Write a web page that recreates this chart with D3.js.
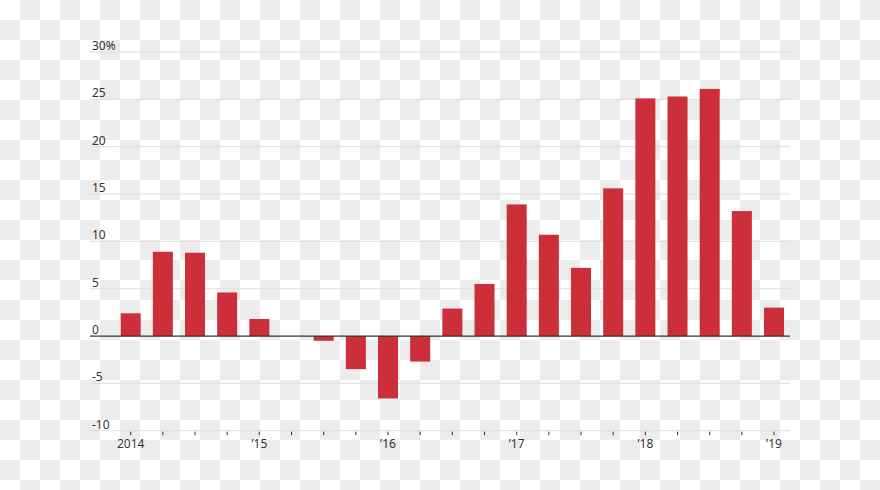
<!DOCTYPE html>
<html>
<head>
<meta charset="utf-8">
<script src="https://cdn.jsdelivr.net/npm/d3@7"></script>
<style>
  body { margin: 0; background: #fff; }
  svg { display: block; }
  .tick_label { font-family: "Noto Sans", "Open Sans", sans-serif; font-size: 12px; fill: #333; }
</style>
</head>
<body>
<svg id="chart" width="880" height="490"></svg>
<script>
// quarterly values, 2014 Q1 .. 2019 Q1
var quarters = ["2014Q1","2014Q2","2014Q3","2014Q4",
                "2015Q1","2015Q2","2015Q3","2015Q4",
                "2016Q1","2016Q2","2016Q3","2016Q4",
                "2017Q1","2017Q2","2017Q3","2017Q4",
                "2018Q1","2018Q2","2018Q3","2018Q4",
                "2019Q1"]
var values = [2.4, 8.9, 8.8, 4.6,
              1.8, 0, -0.5, -3.5,
              -6.6, -2.7, 2.9, 5.5,
              13.9, 10.7, 7.2, 15.6,
              25.1, 25.3, 26.1, 13.2,
              3.0]
var y_ticks = [-10, -5, 0, 5, 10, 15, 20, 25, 30]
var x_labels = {"2014Q1": "2014", "2015Q1": "\u201915", "2016Q1": "\u201916",
                "2017Q1": "\u201917", "2018Q1": "\u201918", "2019Q1": "\u201919"}

var bar_color = "#cc2f3a"
var grid_left = 90
var grid_right = 790

var svg = d3.select("#chart")

/*********
*fond damier
*********/
var defs = svg.append("defs")
var pat = defs.append("pattern")
  .attr("id", "checker")
  .attr("width", 40)
  .attr("height", 40)
  .attr("patternUnits", "userSpaceOnUse")
pat.append("rect").attr("width", 40).attr("height", 40).attr("fill", "#ffffff")
pat.append("rect").attr("x", 20).attr("y", 0).attr("width", 20).attr("height", 20).attr("fill", "#ececec")
pat.append("rect").attr("x", 0).attr("y", 20).attr("width", 20).attr("height", 20).attr("fill", "#ececec")

svg.append("rect")
  .attr("width", 880)
  .attr("height", 490)
  .attr("fill", "url(#checker)")

/*********
*echelles
*********/
var y = d3.scaleLinear()
  .domain([-10, 30])
  .range([430.7, 52])

var x = d3.scaleBand()
  .domain(quarters)
  .range([114.6, 790.1])
  .paddingInner(0.378)
  .paddingOuter(0.189)

/*********
*grille
*********/
var grid = svg.append("g").attr("class", "grille")

grid.selectAll(".grid_line")
  .data(y_ticks.filter(function(d){ return d != 0 }))
  .enter()
  .append("line")
  .attr("class", "grid_line")
  .attr("x1", grid_left)
  .attr("x2", grid_right)
  .attr("y1", function(d){ return y(d) })
  .attr("y2", function(d){ return y(d) })
  .attr("stroke", "#dedede")
  .attr("stroke-width", 1)

grid.selectAll(".y_label")
  .data(y_ticks)
  .enter()
  .append("text")
  .attr("class", "tick_label y_label")
  .attr("x", grid_left + 2)
  .attr("y", function(d){ return y(d) - 2 })
  .text(function(d){ return d == 30 ? "30%" : d })

/*********
*barres
*********/
svg.append("g")
  .attr("class", "bars")
  .selectAll("rect")
  .data(values)
  .enter()
  .append("rect")
  .attr("x", function(d, i){ return x(quarters[i]) })
  .attr("width", x.bandwidth())
  .attr("y", function(d){ return y(Math.max(0, d)) })
  .attr("height", function(d){ return Math.abs(y(d) - y(0)) })
  .attr("fill", bar_color)

// ligne du zero
svg.append("line")
  .attr("x1", grid_left)
  .attr("x2", grid_right)
  .attr("y1", y(0))
  .attr("y2", y(0))
  .attr("stroke", "#333")
  .attr("stroke-width", 1.3)

/*********
*axe x
*********/
var x_axis = svg.append("g").attr("class", "x_axis")

x_axis.selectAll(".x_tick")
  .data(quarters)
  .enter()
  .append("line")
  .attr("class", "x_tick")
  .attr("x1", function(d){ return x(d) + x.bandwidth()/2 })
  .attr("x2", function(d){ return x(d) + x.bandwidth()/2 })
  .attr("y1", y(-10) + 1)
  .attr("y2", y(-10) + 4.5)
  .attr("stroke", "#333")
  .attr("stroke-width", 1)

x_axis.selectAll(".x_label")
  .data(quarters.filter(function(d){ return x_labels[d] }))
  .enter()
  .append("text")
  .attr("class", "tick_label x_label")
  .attr("x", function(d){ return x(d) + x.bandwidth()/2 })
  .attr("y", 448)
  .attr("text-anchor", "middle")
  .text(function(d){ return x_labels[d] })
</script>
</body>
</html>
